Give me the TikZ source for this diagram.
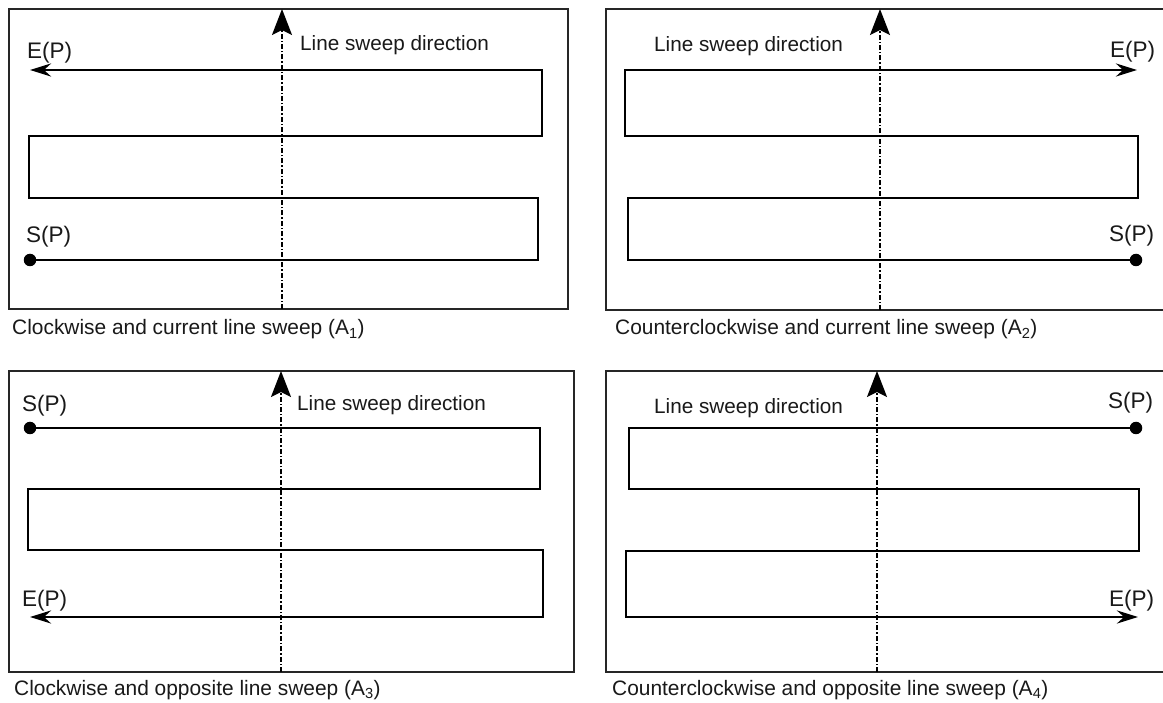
\documentclass[tikz,border=0pt]{standalone}
\usepackage{fontspec}
\setmainfont{Liberation Sans}
\usetikzlibrary{arrows.meta}
\tikzset{
  panelbox/.style={draw=black!85, line width=2pt},
  zig/.style={draw=black, line width=2.8pt, line join=miter},
  zigend/.style={zig, -{Stealth[length=21pt,width=13pt,inset=7pt]}},
  sweep/.style={draw=black, line width=1.8pt, dash pattern=on 5pt off 2pt on 1.4pt off 2pt, -{Stealth[length=26pt,width=20pt,inset=5pt]}},
  startdot/.style={circle, fill=black, inner sep=0pt, minimum size=12.5pt},
  lbl/.style={inner sep=0pt, anchor=base west, text=black!90, font=\fontsize{22.5}{26}\selectfont},
  sweeplbl/.style={inner sep=0pt, anchor=base west, text=black!90, font=\fontsize{20.7}{24}\selectfont},
  captext/.style={inner sep=0pt, anchor=base west, text=black!90, font=\fontsize{20.9}{24}\selectfont},
}
\begin{document}
\begin{tikzpicture}[x=1pt, y=-1pt]
\useasboundingbox (0,0) rectangle (1163,703);
\fill[white] (0,0) rectangle (1163,703);

% ---------- Panel A1 (top left) ----------
\draw[panelbox] (9,9) rectangle (568,309);
\coordinate (a1b) at (282,309);
\coordinate (a1t) at (282,9);
\draw[sweep] (a1b) -- (a1t);
\node[sweeplbl] (a1l) at (300,51) {Line sweep direction};
\node[startdot] (a1s) at (30,260) {};
\coordinate (a1e) at (30,70);
\draw[zigend] (a1s.center) -- (538,260) -- (538,198) -- (29,198) -- (29,136) -- (542,136) -- (542,70) -- (a1e);
\node[lbl] (a1sp) at (26,243) {S(P)};
\node[lbl] (a1ep) at (27,59) {E(P)};
\node[captext] (a1c) at (12,335) {Clockwise and current line sweep (A\textsubscript{1})};

% ---------- Panel A2 (top right) ----------
\draw[panelbox] (1165,9) -- (606,9) -- (606,310) -- (1165,310);
\coordinate (a2b) at (880,310);
\coordinate (a2t) at (880,9);
\draw[sweep] (a2b) -- (a2t);
\node[sweeplbl] (a2l) at (654,52) {Line sweep direction};
\node[startdot] (a2s) at (1136,260) {};
\coordinate (a2e) at (1137,70);
\draw[zigend] (a2s.center) -- (628,260) -- (628,198) -- (1138,198) -- (1138,136) -- (625,136) -- (625,70) -- (a2e);
\node[lbl] (a2sp) at (1109,242) {S(P)};
\node[lbl] (a2ep) at (1110,58) {E(P)};
\node[captext] (a2c) at (615,335) {Counterclockwise and current line sweep (A\textsubscript{2})};

% ---------- Panel A3 (bottom left) ----------
\draw[panelbox] (9,371) rectangle (574,672);
\coordinate (a3b) at (281,672);
\coordinate (a3t) at (281,371);
\draw[sweep] (a3b) -- (a3t);
\node[sweeplbl] (a3l) at (297,411) {Line sweep direction};
\node[startdot] (a3s) at (30,428) {};
\coordinate (a3e) at (30,617);
\draw[zigend] (a3s.center) -- (540,428) -- (540,489) -- (28,489) -- (28,550) -- (543,550) -- (543,617) -- (a3e);
\node[lbl] (a3sp) at (22,412) {S(P)};
\node[lbl] (a3ep) at (22,606) {E(P)};
\node[captext] (a3c) at (14,695) {Clockwise and opposite line sweep (A\textsubscript{3})};

% ---------- Panel A4 (bottom right) ----------
\draw[panelbox] (1165,371) -- (606,371) -- (606,672) -- (1165,672);
\coordinate (a4b) at (877,672);
\coordinate (a4t) at (877,371);
\draw[sweep] (a4b) -- (a4t);
\node[sweeplbl] (a4l) at (654,414) {Line sweep direction};
\node[startdot] (a4s) at (1136,428) {};
\coordinate (a4e) at (1138,617);
\draw[zigend] (a4s.center) -- (629,428) -- (629,489) -- (1139,489) -- (1139,551) -- (626,551) -- (626,617) -- (a4e);
\node[lbl] (a4sp) at (1108,409) {S(P)};
\node[lbl] (a4ep) at (1109,606) {E(P)};
\node[captext] (a4c) at (612,695) {Counterclockwise and opposite line sweep (A\textsubscript{4})};
\end{tikzpicture}
\end{document}
